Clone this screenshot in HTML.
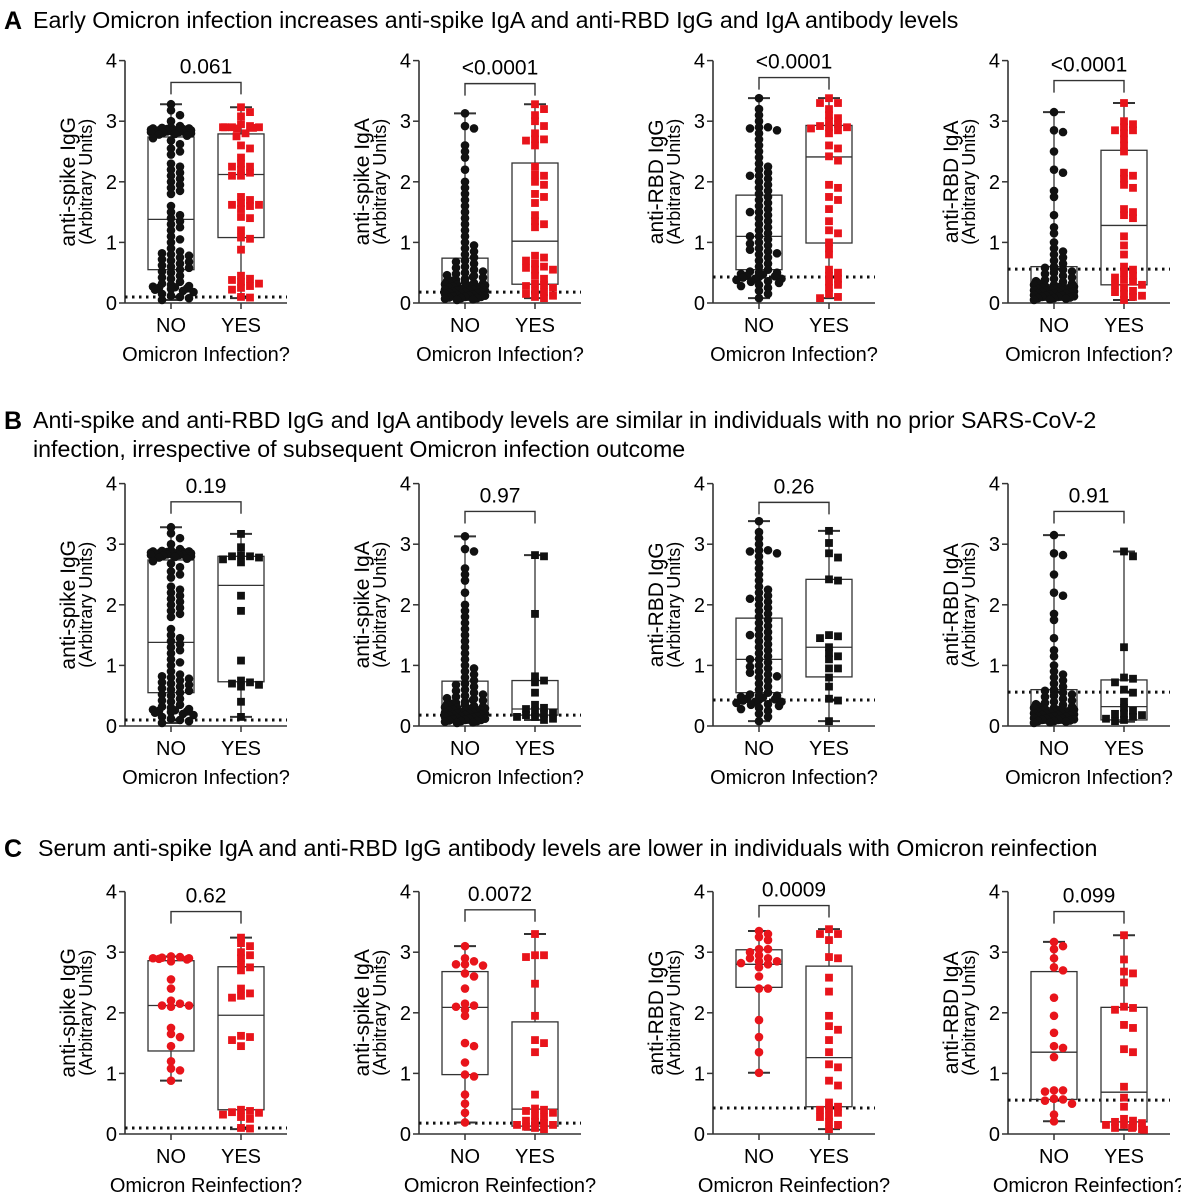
<!DOCTYPE html>
<html><head><meta charset="utf-8"><style>
html,body{margin:0;padding:0;background:#fff}
svg{display:block;font-family:"Liberation Sans",Arial,sans-serif}
</style></head><body>
<svg id="fig" width="1181" height="1200" viewBox="0 0 1181 1200">
<g>
<text x="4" y="29" font-size="25" font-weight="bold">A</text>
<text x="33" y="28" font-size="23.2">Early Omicron infection increases anti-spike IgA and anti-RBD IgG and IgA antibody levels</text></g>
<g>
<text x="4" y="429" font-size="25" font-weight="bold">B</text>
<text x="33" y="428" font-size="23.2">Anti-spike and anti-RBD IgG and IgA antibody levels are similar in individuals with no prior SARS-CoV-2</text>
<text x="33" y="457" font-size="23.2">infection, irrespective of subsequent Omicron infection outcome</text></g>
<g>
<text x="4" y="857" font-size="25" font-weight="bold">C</text>
<text x="38" y="856" font-size="23.2">Serum anti-spike IgA and anti-RBD IgG antibody levels are lower in individuals with Omicron reinfection</text></g>
</svg>
<script>
// ---- data ----
const A1NO=[3.28,3.18,3.1,3.0,2.92,2.9,2.89,2.88,2.88,2.87,2.87,2.86,2.86,2.86,2.85,2.85,2.85,2.84,2.84,2.84,2.83,2.83,2.82,2.82,2.81,2.8,2.79,2.78,2.76,2.72,2.68,2.62,2.55,2.5,2.45,2.3,2.25,2.2,2.15,2.1,2.05,2.0,1.95,1.9,1.85,1.8,1.6,1.5,1.45,1.4,1.35,1.3,1.25,1.2,1.1,1.05,1.0,0.9,0.85,0.82,0.8,0.78,0.75,0.72,0.7,0.68,0.65,0.62,0.6,0.58,0.55,0.52,0.5,0.45,0.42,0.4,0.35,0.32,0.3,0.28,0.27,0.26,0.25,0.24,0.23,0.22,0.2,0.18,0.15,0.12,0.1,0.08,0.05];
const A1YES=[3.23,3.15,3.08,2.95,2.92,2.9,2.9,2.9,2.9,2.89,2.88,2.8,2.75,2.6,2.55,2.4,2.3,2.25,2.25,2.2,2.15,2.1,2.1,1.75,1.7,1.65,1.62,1.62,1.6,1.55,1.42,1.4,1.2,1.08,1.06,0.88,0.45,0.4,0.38,0.35,0.32,0.28,0.25,0.22,0.1,0.09];
const A2NO=[3.13,2.92,2.88,2.6,2.5,2.4,2.2,2.0,1.9,1.8,1.7,1.6,1.5,1.4,1.3,1.2,1.1,1.0,0.95,0.9,0.85,0.8,0.75,0.7,0.68,0.65,0.6,0.58,0.55,0.52,0.5,0.48,0.46,0.45,0.43,0.42,0.4,0.38,0.37,0.36,0.35,0.34,0.33,0.32,0.31,0.3,0.3,0.29,0.28,0.27,0.26,0.25,0.25,0.24,0.23,0.22,0.22,0.21,0.2,0.2,0.19,0.18,0.18,0.17,0.16,0.15,0.15,0.14,0.13,0.12,0.12,0.11,0.1,0.1,0.09,0.08,0.08,0.07,0.06,0.05];
const A2YES=[3.28,3.2,3.1,3.0,2.92,2.8,2.7,2.7,2.68,2.6,2.25,2.12,2.1,2.0,1.95,1.8,1.75,1.65,1.45,1.35,1.3,1.25,0.78,0.75,0.7,0.65,0.6,0.58,0.55,0.55,0.45,0.4,0.32,0.3,0.28,0.25,0.2,0.18,0.15,0.12,0.1,0.08];
const A3NO=[3.38,3.2,3.1,3.0,2.9,2.9,2.88,2.85,2.8,2.7,2.6,2.5,2.4,2.3,2.25,2.2,2.15,2.1,2.1,2.05,2.0,1.95,1.9,1.85,1.8,1.75,1.7,1.65,1.6,1.55,1.5,1.5,1.45,1.4,1.35,1.3,1.25,1.2,1.15,1.1,1.1,1.05,1.0,0.98,0.95,0.9,0.88,0.85,0.82,0.8,0.75,0.7,0.65,0.6,0.55,0.52,0.5,0.5,0.48,0.47,0.45,0.44,0.43,0.42,0.4,0.4,0.38,0.36,0.35,0.33,0.3,0.28,0.25,0.2,0.15,0.08];
const A3YES=[3.38,3.3,3.3,3.2,3.1,3.05,3.0,2.95,2.92,2.9,2.9,2.88,2.85,2.8,2.6,2.55,2.42,2.35,1.95,1.9,1.75,1.7,1.55,1.35,1.2,1.15,1.0,0.9,0.8,0.55,0.5,0.45,0.4,0.35,0.3,0.25,0.15,0.1,0.08];
const A4NO=[3.15,2.85,2.82,2.5,2.2,2.15,1.85,1.75,1.45,1.25,1.15,1.0,0.9,0.85,0.8,0.75,0.7,0.65,0.6,0.58,0.55,0.52,0.5,0.48,0.45,0.42,0.4,0.38,0.36,0.35,0.33,0.32,0.3,0.3,0.29,0.28,0.27,0.26,0.25,0.25,0.24,0.23,0.22,0.22,0.21,0.2,0.2,0.19,0.18,0.18,0.17,0.16,0.15,0.15,0.14,0.13,0.12,0.12,0.11,0.1,0.1,0.09,0.08,0.08,0.07,0.06,0.05];
const A4YES=[3.3,3.0,2.95,2.9,2.85,2.85,2.8,2.7,2.6,2.5,2.15,2.1,2.05,1.95,1.9,1.55,1.5,1.45,1.4,1.1,0.95,0.8,0.6,0.55,0.5,0.45,0.42,0.38,0.35,0.3,0.3,0.25,0.2,0.18,0.15,0.12,0.1,0.05];
const B1YES=[3.17,2.95,2.82,2.8,2.8,2.78,2.75,2.7,2.15,1.9,1.08,0.75,0.72,0.7,0.68,0.65,0.4,0.15];
const B2YES=[2.82,2.8,1.85,0.82,0.75,0.72,0.55,0.35,0.3,0.28,0.25,0.22,0.2,0.18,0.15,0.15,0.12,0.1];
const B3YES=[3.22,3.02,2.85,2.78,2.42,2.4,1.5,1.48,1.45,1.3,1.2,1.15,1.1,0.95,0.95,0.8,0.65,0.45,0.42,0.08];
const B4YES=[2.88,2.8,1.3,0.8,0.78,0.72,0.6,0.55,0.4,0.3,0.25,0.2,0.2,0.18,0.15,0.12,0.1,0.08];
const C1NO=[2.93,2.92,2.91,2.9,2.9,2.89,2.88,2.85,2.55,2.4,2.2,2.15,2.12,2.12,2.1,1.75,1.65,1.6,1.45,1.2,1.08,1.05,0.88];
const C1YES=[3.24,3.15,3.1,3.0,2.95,2.9,2.8,2.75,2.7,2.4,2.32,2.28,2.25,1.62,1.6,1.55,1.45,0.4,0.38,0.36,0.35,0.32,0.28,0.25,0.1,0.09];
const C2NO=[3.1,2.9,2.85,2.8,2.8,2.78,2.65,2.6,2.4,2.15,2.12,2.1,2.05,1.95,1.5,1.45,1.18,0.98,0.95,0.65,0.5,0.35,0.19];
const C2YES=[3.3,2.95,2.95,2.92,2.48,1.95,1.55,1.5,1.35,0.65,0.42,0.4,0.38,0.35,0.3,0.28,0.22,0.2,0.18,0.15,0.15,0.12,0.1,0.08];
const C3NO=[3.35,3.3,3.25,3.2,3.05,3.05,3.0,2.95,2.9,2.9,2.85,2.85,2.82,2.8,2.75,2.6,2.4,2.4,1.88,1.6,1.35,1.01];
const C3YES=[3.38,3.3,3.3,3.2,2.92,2.9,2.58,2.35,1.95,1.78,1.72,1.55,1.35,1.15,1.1,0.88,0.8,0.52,0.45,0.42,0.4,0.35,0.3,0.28,0.2,0.15,0.08];
const C4NO=[3.17,3.1,3.05,2.9,2.75,2.7,2.25,1.95,1.67,1.45,1.42,1.27,0.72,0.72,0.7,0.58,0.57,0.55,0.5,0.32,0.21];
const C4YES=[3.28,2.88,2.68,2.65,2.5,2.1,2.08,2.05,1.8,1.75,1.4,1.35,0.78,0.6,0.45,0.25,0.22,0.2,0.18,0.15,0.15,0.12,0.1,0.1,0.08,0.07];
// box stats [min,q1,median,q3,max]
const boxA1NO=[0.05,0.55,1.38,2.74,3.28], boxA1YES=[0.08,1.08,2.12,2.79,3.23];
const boxA2NO=[0.05,0.1,0.32,0.74,3.13], boxA2YES=[0.08,0.31,1.02,2.31,3.28];
const boxA3NO=[0.08,0.55,1.1,1.78,3.38], boxA3YES=[0.08,0.99,2.41,2.93,3.38];
const boxA4NO=[0.05,0.12,0.3,0.6,3.15], boxA4YES=[0.05,0.3,1.28,2.52,3.3];
const boxB1YES=[0.15,0.73,2.32,2.8,3.17], boxB2YES=[0.1,0.18,0.28,0.75,2.82];
const boxB3YES=[0.08,0.81,1.3,2.42,3.22], boxB4YES=[0.07,0.1,0.32,0.76,2.88];
const boxC1NO=[0.88,1.37,2.12,2.86,2.93], boxC1YES=[0.08,0.4,1.96,2.76,3.24];
const boxC2NO=[0.19,0.98,2.09,2.68,3.1], boxC2YES=[0.07,0.13,0.41,1.85,3.3];
const boxC3NO=[1.01,2.42,2.8,3.04,3.35], boxC3YES=[0.08,0.45,1.26,2.77,3.38];
const boxC4NO=[0.21,0.57,1.35,2.68,3.17], boxC4YES=[0.07,0.2,0.69,2.09,3.28];
const pvalues=["0.061","<0.0001","<0.0001","<0.0001","0.19","0.97","0.26","0.91","0.62","0.0072","0.0009","0.099"];
const bracketLevels=[3.64,3.62,3.72,3.67,3.70,3.54,3.69,3.54,3.67,3.70,3.77,3.67];
const thresholds=[0.1,0.18,0.43,0.56];
const yTitles=["anti-spike IgG","anti-spike IgA","anti-RBD IgG","anti-RBD IgA"];
const yTicks=[0,1,2,3,4];
const groupLabels=["NO","YES"];
const xTitles=["Omicron Infection?","Omicron Infection?","Omicron Reinfection?"];

const panels=[
 [A1NO,A1YES,boxA1NO,boxA1YES],[A2NO,A2YES,boxA2NO,boxA2YES],[A3NO,A3YES,boxA3NO,boxA3YES],[A4NO,A4YES,boxA4NO,boxA4YES],
 [A1NO,B1YES,boxA1NO,boxB1YES],[A2NO,B2YES,boxA2NO,boxB2YES],[A3NO,B3YES,boxA3NO,boxB3YES],[A4NO,B4YES,boxA4NO,boxB4YES],
 [C1NO,C1YES,boxC1NO,boxC1YES],[C2NO,C2YES,boxC2NO,boxC2YES],[C3NO,C3YES,boxC3NO,boxC3YES],[C4NO,C4YES,boxC4NO,boxC4YES]];

const RED="#e8141b";
const svg=document.getElementById('fig');
const NS="http://www.w3.org/2000/svg";
function mk(tag,attrs,parent){const e=document.createElementNS(NS,tag);for(const k in attrs)e.setAttribute(k,attrs[k]);parent.appendChild(e);return e;}
const axisXs=[125,419,713,1008];
const zeroYs=[303,726,1134];
const unit=60.6;

panels.forEach((p,i)=>{
  const row=Math.floor(i/4), col=i%4;
  const ax=axisXs[col], y0=zeroYs[row];
  const Y=v=>y0-v*unit;
  const X=[ax+46,ax+116];
  const g=mk('g',{},svg);
  
  
  const ya=mk('line',{x1:ax,y1:Y(4),x2:ax,y2:y0,stroke:'#333','stroke-width':1.6},g);
  
  const xa=mk('line',{x1:ax,y1:y0,x2:ax+162,y2:y0,stroke:'#333','stroke-width':1.6},g);
  
  yTicks.forEach(t=>{
    const tk=mk('line',{x1:ax-6,y1:Y(t),x2:ax,y2:Y(t),stroke:'#333','stroke-width':1.5},g);
    
    const tl=mk('text',{x:ax-8,y:Y(t)+7,'font-size':20,'text-anchor':'end'},g);tl.textContent=t;
    
  });
  groupLabels.forEach((l,k)=>{
    const tk=mk('line',{x1:X[k],y1:y0,x2:X[k],y2:y0+6,stroke:'#333','stroke-width':1.5},g);
    
    const tl=mk('text',{x:X[k],y:y0+29,'font-size':20,'text-anchor':'middle'},g);tl.textContent=l;
    
  });
  const xt=mk('text',{x:ax+81,y:y0+58,'font-size':20,'text-anchor':'middle'},g);
  xt.textContent=xTitles[row];
  
  const yc=Y(2);
  const t1=mk('text',{x:0,y:0,'font-size':21,'text-anchor':'middle',transform:`translate(${ax-50},${yc}) rotate(-90)`},g);
  t1.textContent=yTitles[col];
  
  const t2=mk('text',{x:0,y:0,'font-size':18,'text-anchor':'middle',transform:`translate(${ax-33},${yc}) rotate(-90)`},g);
  t2.textContent="(Arbitrary Units)";
  
  const th=mk('line',{x1:ax,y1:Y(thresholds[col]),x2:ax+162,y2:Y(thresholds[col]),stroke:'#111','stroke-width':3,'stroke-dasharray':'2.5 4.5'},g);
  
  [p[2],p[3]].forEach((b,k)=>{
    const cx=X[k];
    const bg=mk('g',{fill:'none',stroke:'#333','stroke-width':1.3},g);
    
    
    mk('rect',{x:cx-23,y:Y(b[3]),width:46,height:Y(b[1])-Y(b[3])},bg);
    mk('line',{x1:cx-23,y1:Y(b[2]),x2:cx+23,y2:Y(b[2])},bg);
    mk('line',{x1:cx,y1:Y(b[4]),x2:cx,y2:Y(b[3])},bg);
    mk('line',{x1:cx,y1:Y(b[1]),x2:cx,y2:Y(b[0])},bg);
    mk('line',{x1:cx-11,y1:Y(b[4]),x2:cx+11,y2:Y(b[4]),'stroke-width':2},bg);
    mk('line',{x1:cx-11,y1:Y(b[0]),x2:cx+11,y2:Y(b[0]),'stroke-width':2},bg);
  });
  [p[0],p[1]].forEach((vals,k)=>{
    const cx=X[k];
    const fill=(row===0&&k===1)||row===2?RED:'#111';
    const sq=k===1;
    const r=sq?3.9:4.3;
    const maxOff=k===0?26:24;
    const placed=[];
    const sorted=vals.slice().sort((a,b)=>b-a);
    const pg=mk('g',{fill:fill},g);
    
    
    sorted.forEach((v,j)=>{
      const py=Y(v);
      let off=null;
      for(let s=0;s<30;s++){
        const o=(s%2?1:-1)*Math.ceil(s/2)*4.5;
        if(Math.abs(o)>maxOff)break;
        if(!placed.some(q=>Math.abs(q[1]-py)<r*1.3&&Math.abs(q[0]-(cx+o))<r*1.3)){off=o;break;}
      }
      if(off===null)off=((j*7)%11-5)*4;
      placed.push([cx+off,py]);
      let m;
      if(sq) m=mk('rect',{x:cx+off-r,y:py-r,width:2*r,height:2*r},pg);
      else m=mk('circle',{cx:cx+off,cy:py,r:r},pg);
      
      
    });
  });
  const lv=bracketLevels[i], by=Y(lv);
  const br=mk('path',{d:`M${X[0]},${by+12}V${by}H${X[1]}V${by+12}`,fill:'none',stroke:'#333','stroke-width':1.4},g);
  
  const pt=mk('text',{x:(X[0]+X[1])/2,y:by-9,'font-size':21,'text-anchor':'middle'},g);
  pt.textContent=pvalues[i];
  
});
</script>
</body></html>
